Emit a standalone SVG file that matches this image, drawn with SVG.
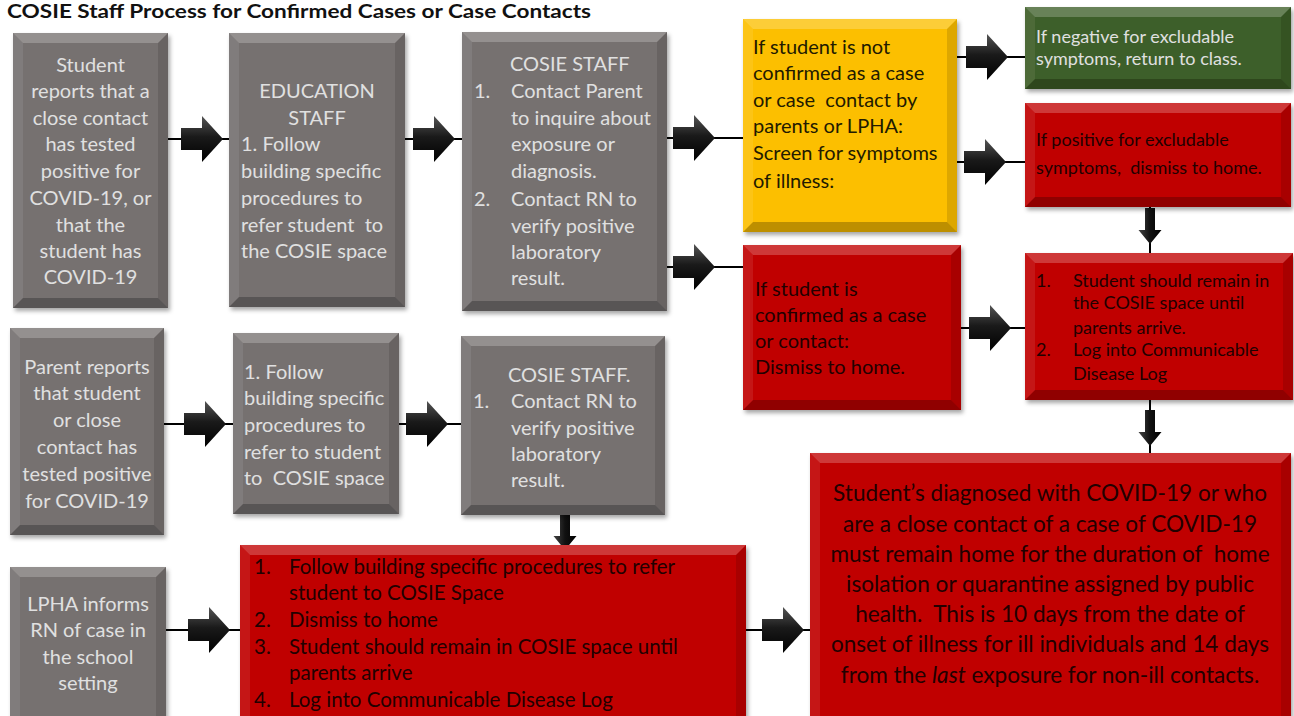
<svg xmlns="http://www.w3.org/2000/svg" width="1294" height="716" viewBox="0 0 1294 716">
<style>
text{font-family:Lato,"Liberation Sans",sans-serif;white-space:pre}
.g{fill:#767170}.y{fill:#fcbf00}.r{fill:#c00000}.gr{fill:#3e5f29}
.hl{fill:#fff;opacity:.22}.sl{fill:#fff;opacity:.08}.sr{fill:#000;opacity:.12}.sb{fill:#000;opacity:.25}
.tl{fill:#e0e0e0;font-size:20px}.td{fill:#221a00;font-size:20px}.tr{fill:#220000;font-size:20px}
.s18{font-size:18px}.mid{text-anchor:middle}.s205{font-size:20.5px}.big{font-size:22.6px}
.ln{stroke:#000;stroke-width:2;fill:none}
.box{filter:url(#sh)}
</style>
<defs>
<filter id="sh" x="-10%" y="-10%" width="125%" height="125%"><feDropShadow dx="2" dy="3" stdDeviation="2" flood-color="#000" flood-opacity="0.35"/></filter>
<linearGradient id="ag" x1="0" y1="0" x2="0" y2="1"><stop offset="0" stop-color="#555"/><stop offset="0.45" stop-color="#1a1a1a"/><stop offset="1" stop-color="#000"/></linearGradient>
<linearGradient id="agd" x1="0" y1="0" x2="1" y2="0"><stop offset="0" stop-color="#444"/><stop offset="0.5" stop-color="#111"/><stop offset="1" stop-color="#000"/></linearGradient>
<path id="ar" d="M0,-11H21V-23L42,0L21,23V11H0Z" fill="url(#ag)"/>
<path id="ad" d="M-5,0V22H-11.5L0,36L11.5,22H5V0Z" fill="url(#agd)"/>
</defs>
<rect width="1294" height="716" fill="#fff"/>
<text x="7" y="18" textLength="584" lengthAdjust="spacingAndGlyphs" style="font-weight:bold;font-size:19px;fill:#111">COSIE Staff Process for Confirmed Cases or Case Contacts</text>

<g id="connectors">
<line class="ln" x1="168" y1="139" x2="229" y2="139"/><use href="#ar" x="181" y="139"/>
<line class="ln" x1="405" y1="139" x2="462" y2="139"/><use href="#ar" x="413" y="139"/>
<line class="ln" x1="667" y1="138" x2="743" y2="138"/><use href="#ar" x="673" y="138"/>
<line class="ln" x1="667" y1="267" x2="743" y2="267"/><use href="#ar" x="673" y="267"/>
<line class="ln" x1="957" y1="57" x2="1025" y2="57"/><use href="#ar" x="966" y="57"/>
<line class="ln" x1="957" y1="162" x2="1025" y2="162"/><use href="#ar" x="964" y="162"/>
<line class="ln" x1="961" y1="328" x2="1025" y2="328"/><use href="#ar" x="969" y="328"/>
<line class="ln" x1="164" y1="424" x2="233" y2="424"/><use href="#ar" x="184" y="424"/>
<line class="ln" x1="399" y1="424" x2="461" y2="424"/><use href="#ar" x="406" y="424"/>
<line class="ln" x1="166" y1="630" x2="240" y2="630"/><use href="#ar" x="188" y="630"/>
<line class="ln" x1="746" y1="630" x2="810" y2="630"/><use href="#ar" x="762" y="630"/>
<line class="ln" x1="1150" y1="207" x2="1150" y2="253"/><use href="#ad" x="1150" y="208"/>
<line class="ln" x1="1150" y1="400" x2="1150" y2="453"/><use href="#ad" x="1150" y="410"/>
<line class="ln" x1="565" y1="515" x2="565" y2="545"/><use href="#ad" x="565" y="514"/>
</g>

<g id="n1">
<g class="box"><rect class="g" x="13" y="33" width="155" height="275"/>
<polygon class="hl" points="13,33 168,33 158,43 23,43"/><polygon class="sb" points="13,308 168,308 158,298 23,298"/>
<polygon class="sl" points="13,33 23,43 23,298 13,308"/><polygon class="sr" points="168,33 158,43 158,298 168,308"/></g>
<text x="90.5" y="72" class="tl mid">Student</text>
<text x="90.5" y="98" class="tl mid">reports that a</text>
<text x="90.5" y="125" class="tl mid">close contact</text>
<text x="90.5" y="151" class="tl mid">has tested</text>
<text x="90.5" y="178" class="tl mid">positive for</text>
<text x="90.5" y="205" class="tl mid">COVID-19, or</text>
<text x="90.5" y="232" class="tl mid">that the</text>
<text x="90.5" y="258" class="tl mid">student has</text>
<text x="90.5" y="284" class="tl mid">COVID-19</text>
</g>

<g id="n2">
<g class="box"><rect class="g" x="229" y="33" width="176" height="274"/>
<polygon class="hl" points="229,33 405,33 395,43 239,43"/><polygon class="sb" points="229,307 405,307 395,297 239,297"/>
<polygon class="sl" points="229,33 239,43 239,297 229,307"/><polygon class="sr" points="405,33 395,43 395,297 405,307"/></g>
<text x="317" y="98" class="tl mid">EDUCATION</text>
<text x="317" y="125" class="tl mid">STAFF</text>
<text x="241" y="151" class="tl">1. Follow</text>
<text x="241" y="178" class="tl">building specific</text>
<text x="241" y="205" class="tl">procedures to</text>
<text x="241" y="232" class="tl">refer student  to</text>
<text x="241" y="258" class="tl">the COSIE space</text>
</g>

<g id="n3">
<g class="box"><rect class="g" x="462" y="32" width="205" height="279"/>
<polygon class="hl" points="462,32 667,32 657,42 472,42"/><polygon class="sb" points="462,311 667,311 657,301 472,301"/>
<polygon class="sl" points="462,32 472,42 472,301 462,311"/><polygon class="sr" points="667,32 657,42 657,301 667,311"/></g>
<text x="510" y="71" class="tl">COSIE STAFF</text>
<text x="474" y="98" class="tl">1.</text><text x="511" y="98" class="tl">Contact Parent</text>
<text x="511" y="125" class="tl">to inquire about</text>
<text x="511" y="151" class="tl">exposure or</text>
<text x="511" y="178" class="tl">diagnosis.</text>
<text x="474" y="206" class="tl">2.</text><text x="511" y="206" class="tl">Contact RN to</text>
<text x="511" y="233" class="tl">verify positive</text>
<text x="511" y="259" class="tl">laboratory</text>
<text x="511" y="285" class="tl">result.</text>
</g>

<g id="n4">
<g class="box"><rect class="y" x="743" y="19" width="214" height="213"/>
<polygon class="hl" points="743,19 957,19 947,29 753,29"/><polygon class="sb" points="743,232 957,232 947,222 753,222"/>
<polygon class="sl" points="743,19 753,29 753,222 743,232"/><polygon class="sr" points="957,19 947,29 947,222 957,232"/></g>
<text x="753" y="54" class="td">If student is not</text>
<text x="753" y="80" class="td">confirmed as a case</text>
<text x="753" y="107" class="td">or case  contact by</text>
<text x="753" y="133" class="td">parents or LPHA:</text>
<text x="753" y="160" class="td">Screen for symptoms</text>
<text x="753" y="188" class="td">of illness:</text>
</g>

<g id="n5">
<g class="box"><rect class="gr" x="1025" y="7" width="266" height="82"/>
<polygon class="hl" points="1025,7 1291,7 1281,17 1035,17"/><polygon class="sb" points="1025,89 1291,89 1281,79 1035,79"/>
<polygon class="sl" points="1025,7 1035,17 1035,79 1025,89"/><polygon class="sr" points="1291,7 1281,17 1281,79 1291,89"/></g>
<text x="1036" y="43" class="tl s18">If negative for excludable</text>
<text x="1036" y="65" class="tl s18">symptoms, return to class.</text>
</g>

<g id="n6">
<g class="box"><rect class="r" x="1025" y="103" width="266" height="104"/>
<polygon class="hl" points="1025,103 1291,103 1281,113 1035,113"/><polygon class="sb" points="1025,207 1291,207 1281,197 1035,197"/>
<polygon class="sl" points="1025,103 1035,113 1035,197 1025,207"/><polygon class="sr" points="1291,103 1281,113 1281,197 1291,207"/></g>
<text x="1036" y="146" class="tr s18">If positive for excludable</text>
<text x="1036" y="174" class="tr s18">symptoms,  dismiss to home.</text>
</g>

<g id="n7">
<g class="box"><rect class="r" x="743" y="245" width="218" height="165"/>
<polygon class="hl" points="743,245 961,245 951,255 753,255"/><polygon class="sb" points="743,410 961,410 951,400 753,400"/>
<polygon class="sl" points="743,245 753,255 753,400 743,410"/><polygon class="sr" points="961,245 951,255 951,400 961,410"/></g>
<text x="755" y="296" class="tr">If student is</text>
<text x="755" y="322" class="tr">confirmed as a case</text>
<text x="755" y="348" class="tr">or contact:</text>
<text x="755" y="374" class="tr">Dismiss to home.</text>
</g>

<g id="n8">
<g class="box"><rect class="r" x="1025" y="253" width="268" height="147"/>
<polygon class="hl" points="1025,253 1293,253 1283,263 1035,263"/><polygon class="sb" points="1025,400 1293,400 1283,390 1035,390"/>
<polygon class="sl" points="1025,253 1035,263 1035,390 1025,400"/><polygon class="sr" points="1293,253 1283,263 1283,390 1293,400"/></g>
<text x="1036" y="287" class="tr s18">1.</text><text x="1073" y="287" class="tr s18">Student should remain in</text>
<text x="1073" y="309" class="tr s18">the COSIE space until</text>
<text x="1073" y="334" class="tr s18">parents arrive.</text>
<text x="1036" y="356" class="tr s18">2.</text><text x="1073" y="356" class="tr s18">Log into Communicable</text>
<text x="1073" y="380" class="tr s18">Disease Log</text>
</g>

<g id="n9">
<g class="box"><rect class="g" x="10" y="328" width="154" height="207"/>
<polygon class="hl" points="10,328 164,328 154,338 20,338"/><polygon class="sb" points="10,535 164,535 154,525 20,525"/>
<polygon class="sl" points="10,328 20,338 20,525 10,535"/><polygon class="sr" points="164,328 154,338 154,525 164,535"/></g>
<text x="87" y="374" class="tl mid">Parent reports</text>
<text x="87" y="400" class="tl mid">that student</text>
<text x="87" y="427" class="tl mid">or close</text>
<text x="87" y="454" class="tl mid">contact has</text>
<text x="87" y="481" class="tl mid">tested positive</text>
<text x="87" y="508" class="tl mid">for COVID-19</text>
</g>

<g id="n10">
<g class="box"><rect class="g" x="233" y="333" width="166" height="181"/>
<polygon class="hl" points="233,333 399,333 389,343 243,343"/><polygon class="sb" points="233,514 399,514 389,504 243,504"/>
<polygon class="sl" points="233,333 243,343 243,504 233,514"/><polygon class="sr" points="399,333 389,343 389,504 399,514"/></g>
<text x="244" y="379" class="tl">1. Follow</text>
<text x="244" y="405" class="tl">building specific</text>
<text x="244" y="432" class="tl">procedures to</text>
<text x="244" y="459" class="tl">refer to student</text>
<text x="244" y="485" class="tl">to  COSIE space</text>
</g>

<g id="n11">
<g class="box"><rect class="g" x="461" y="336" width="204" height="179"/>
<polygon class="hl" points="461,336 665,336 655,346 471,346"/><polygon class="sb" points="461,515 665,515 655,505 471,505"/>
<polygon class="sl" points="461,336 471,346 471,505 461,515"/><polygon class="sr" points="665,336 655,346 655,505 665,515"/></g>
<text x="508" y="382" class="tl">COSIE STAFF.</text>
<text x="473" y="408" class="tl">1.</text><text x="511" y="408" class="tl">Contact RN to</text>
<text x="511" y="435" class="tl">verify positive</text>
<text x="511" y="461" class="tl">laboratory</text>
<text x="511" y="487" class="tl">result.</text>
</g>

<g id="n12">
<g class="box"><rect class="g" x="10" y="567" width="156" height="160"/>
<polygon class="hl" points="10,567 166,567 156,577 20,577"/>
<polygon class="sl" points="10,567 20,577 20,727 10,727"/><polygon class="sr" points="166,567 156,577 156,727 166,727"/></g>
<text x="88" y="611" class="tl mid">LPHA informs</text>
<text x="88" y="637" class="tl mid">RN of case in</text>
<text x="88" y="664" class="tl mid">the school</text>
<text x="88" y="690" class="tl mid">setting</text>
</g>

<g id="n13">
<g class="box"><rect class="r" x="240" y="545" width="506" height="185"/>
<polygon class="hl" points="240,545 746,545 736,555 250,555"/>
<polygon class="sl" points="240,545 250,555 250,730 240,730"/><polygon class="sr" points="746,545 736,555 736,730 746,730"/></g>
<text x="254" y="574" class="tr s205">1.</text><text x="289" y="574" class="tr s205">Follow building specific procedures to refer</text>
<text x="289" y="600" class="tr s205">student to COSIE Space</text>
<text x="254" y="627" class="tr s205">2.</text><text x="289" y="627" class="tr s205">Dismiss to home</text>
<text x="254" y="654" class="tr s205">3.</text><text x="289" y="654" class="tr s205">Student should remain in COSIE space until</text>
<text x="289" y="680" class="tr s205">parents arrive</text>
<text x="254" y="707" class="tr s205">4.</text><text x="289" y="707" class="tr s205">Log into Communicable Disease Log</text>
</g>

<g id="n14">
<g class="box"><rect class="r" x="810" y="453" width="481" height="275"/>
<polygon class="hl" points="810,453 1291,453 1281,463 820,463"/>
<polygon class="sl" points="810,453 820,463 820,728 810,728"/><polygon class="sr" points="1291,453 1281,463 1281,728 1291,728"/></g>
<text x="1050" y="501" class="tr mid big">Student’s diagnosed with COVID-19 or who</text>
<text x="1050" y="532" class="tr mid big">are a close contact of a case of COVID-19</text>
<text x="1050" y="562" class="tr mid big">must remain home for the duration of  home</text>
<text x="1050" y="592" class="tr mid big">isolation or quarantine assigned by public</text>
<text x="1050" y="622" class="tr mid big">health.  This is 10 days from the date of</text>
<text x="1050" y="652" class="tr mid big">onset of illness for ill individuals and 14 days</text>
<text x="1050" y="683" class="tr mid big">from the <tspan font-style="italic">last</tspan> exposure for non-ill contacts.</text>
</g>
</svg>
